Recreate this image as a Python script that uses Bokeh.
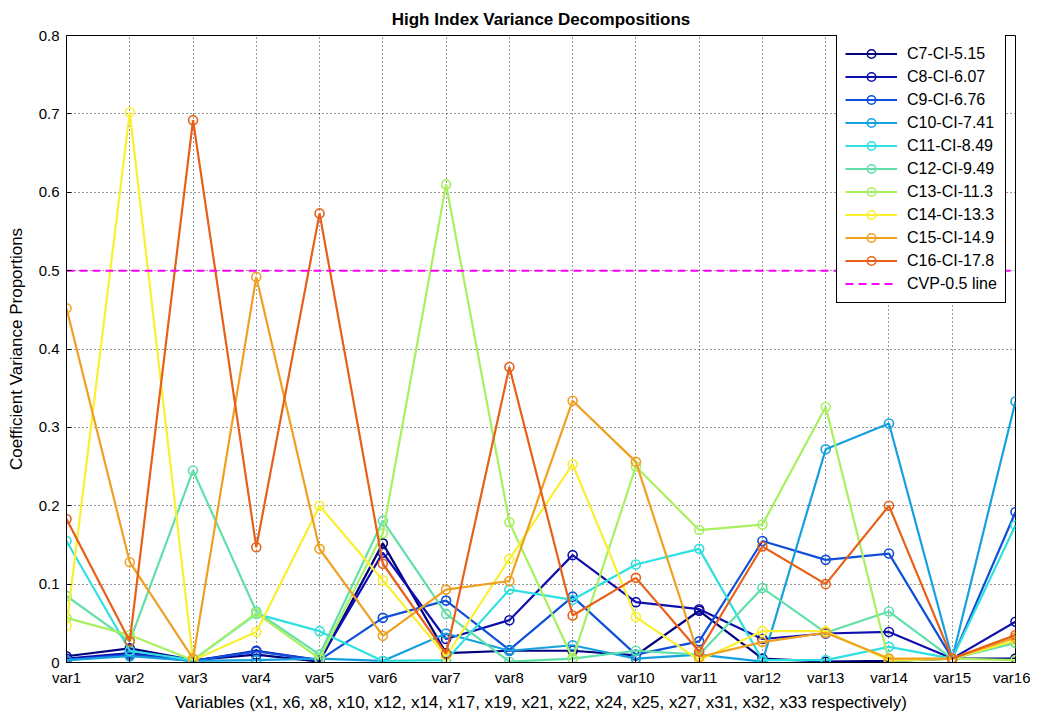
from bokeh.plotting import figure
from bokeh.models import Legend, LegendItem, FixedTicker, Range1d
from bokeh.embed import file_html
from bokeh.resources import INLINE

categories = ["var1", "var2", "var3", "var4", "var5", "var6", "var7", "var8",
              "var9", "var10", "var11", "var12", "var13", "var14", "var15", "var16"]
y_ticks = [0, 0.1, 0.2, 0.3, 0.4, 0.5, 0.6, 0.7, 0.8]

c7 = [0.008, 0.018, 0.003, 0.010, 0.001, 0.152, 0.012, 0.015, 0.015, 0.009, 0.066, 0.005, 0.001, 0.002, 0.005, 0.005]
c8 = [0.005, 0.012, 0.002, 0.015, 0.003, 0.140, 0.030, 0.054, 0.137, 0.077, 0.068, 0.030, 0.037, 0.039, 0.005, 0.052]
c9 = [0.003, 0.010, 0.002, 0.014, 0.003, 0.057, 0.079, 0.016, 0.084, 0.010, 0.027, 0.155, 0.131, 0.139, 0.005, 0.192]
c10 = [0.003, 0.008, 0.002, 0.003, 0.005, 0.002, 0.037, 0.015, 0.022, 0.005, 0.010, 0.001, 0.272, 0.305, 0.005, 0.333]
c11 = [0.155, 0.015, 0.003, 0.062, 0.040, 0.002, 0.003, 0.093, 0.080, 0.125, 0.145, 0.003, 0.003, 0.020, 0.005, 0.175]
c12 = [0.085, 0.027, 0.245, 0.065, 0.010, 0.181, 0.062, 0.001, 0.005, 0.015, 0.010, 0.095, 0.038, 0.065, 0.005, 0.025]
c13 = [0.057, 0.035, 0.003, 0.063, 0.005, 0.165, 0.610, 0.179, 0.005, 0.250, 0.169, 0.176, 0.326, 0.002, 0.005, 0.003]
c14 = [0.047, 0.702, 0.003, 0.039, 0.200, 0.105, 0.008, 0.132, 0.253, 0.058, 0.003, 0.040, 0.040, 0.003, 0.005, 0.028]
c15 = [0.452, 0.128, 0.005, 0.492, 0.145, 0.034, 0.093, 0.104, 0.334, 0.256, 0.007, 0.026, 0.038, 0.005, 0.005, 0.032]
c16 = [0.183, 0.027, 0.692, 0.147, 0.573, 0.126, 0.011, 0.377, 0.060, 0.108, 0.014, 0.148, 0.100, 0.200, 0.005, 0.035]

series_names = ["C7-CI-5.15", "C8-CI-6.07", "C9-CI-6.76", "C10-CI-7.41", "C11-CI-8.49",
                "C12-CI-9.49", "C13-CI-11.3", "C14-CI-13.3", "C15-CI-14.9", "C16-CI-17.8"]
series_values = [c7, c8, c9, c10, c11, c12, c13, c14, c15, c16]
series_colors = ["#00007f", "#0f0fb0", "#1050d8", "#15a0e0", "#30e0e0",
                 "#60e0a8", "#a8f060", "#f8f030", "#f0a020", "#e86018"]

cvp_name = "CVP-0.5 line"
cvp_level = 0.5

FONT = "Liberation Sans"

x_pos = list(range(1, len(categories) + 1))

p = figure(width=1030, height=714, output_backend="svg", toolbar_location=None,
           x_range=Range1d(1, 16), y_range=Range1d(0, 0.8),
           min_border_left=66, min_border_top=35, min_border_right=15, min_border_bottom=50,
           background_fill_color="white", border_fill_color="white")

p.title.text = "High Index Variance Decompositions"
p.title.align = "center"
p.title.text_font = FONT
p.title.text_font_size = "17px"
p.title.text_font_style = "bold"
p.title.text_color = "black"
p.title.standoff = 13

p.xaxis.ticker = FixedTicker(ticks=x_pos)
p.xaxis.major_label_overrides = {x: c for x, c in zip(x_pos, categories)}
p.yaxis.ticker = FixedTicker(ticks=y_ticks)
p.yaxis.major_label_overrides = {0: "0"}

for ax in (p.xaxis[0], p.yaxis[0]):
    ax.major_tick_in = 5
    ax.major_tick_out = 0
    ax.minor_tick_line_color = None
    ax.axis_line_color = "black"
    ax.major_tick_line_color = "black"
    ax.major_label_text_font = FONT
    ax.major_label_text_font_size = "15px"
    ax.major_label_text_color = "black"
    ax.axis_label_text_font = FONT
    ax.axis_label_text_font_size = "17px"
    ax.axis_label_text_font_style = "normal"
    ax.axis_label_text_color = "black"

p.xaxis.axis_label = "Variables (x1, x6, x8, x10, x12, x14, x17, x19, x21, x22, x24, x25, x27, x31, x32, x33 respectively)"
p.yaxis.axis_label = "Coefficient Variance Proportions"
p.xaxis.major_label_standoff = 6
p.xaxis.axis_label_standoff = 4
p.yaxis.major_label_standoff = 7
p.yaxis.axis_label_standoff = 10

p.xgrid.ticker = FixedTicker(ticks=x_pos)
p.ygrid.ticker = FixedTicker(ticks=y_ticks)
for g in (p.xgrid[0], p.ygrid[0]):
    g.grid_line_color = "black"
    g.grid_line_dash = "1 3"
    g.grid_line_alpha = 0.8
    g.grid_line_width = 1

p.outline_line_color = "black"
p.outline_line_alpha = 1
p.outline_line_width = 1

items = []
for name, vals, col in zip(series_names, series_values, series_colors):
    r1 = p.line(x_pos, vals, line_color=col, line_width=2.2)
    r2 = p.scatter(x_pos, vals, marker="circle", size=9, line_color=col,
                   fill_color=None, line_width=1.6)
    items.append(LegendItem(label=name, renderers=[r1, r2]))

rc = p.line([x_pos[0], x_pos[-1]], [cvp_level, cvp_level], line_color="#ff00ff",
            line_width=2, line_dash="8 5")
items.append(LegendItem(label=cvp_name, renderers=[rc]))

legend = Legend(items=items, location=(770, 359))
legend.label_text_font = FONT
legend.label_text_font_size = "16px"
legend.label_text_color = "black"
legend.glyph_width = 52
legend.glyph_height = 21
legend.label_height = 21
legend.label_standoff = 10
legend.spacing = 2
legend.padding = 8
legend.margin = 0
legend.border_line_color = "black"
legend.border_line_width = 1
legend.border_line_alpha = 1
legend.background_fill_color = "white"
legend.background_fill_alpha = 1
p.add_layout(legend, "center")

open("out.html", "w").write(file_html(p, INLINE))
